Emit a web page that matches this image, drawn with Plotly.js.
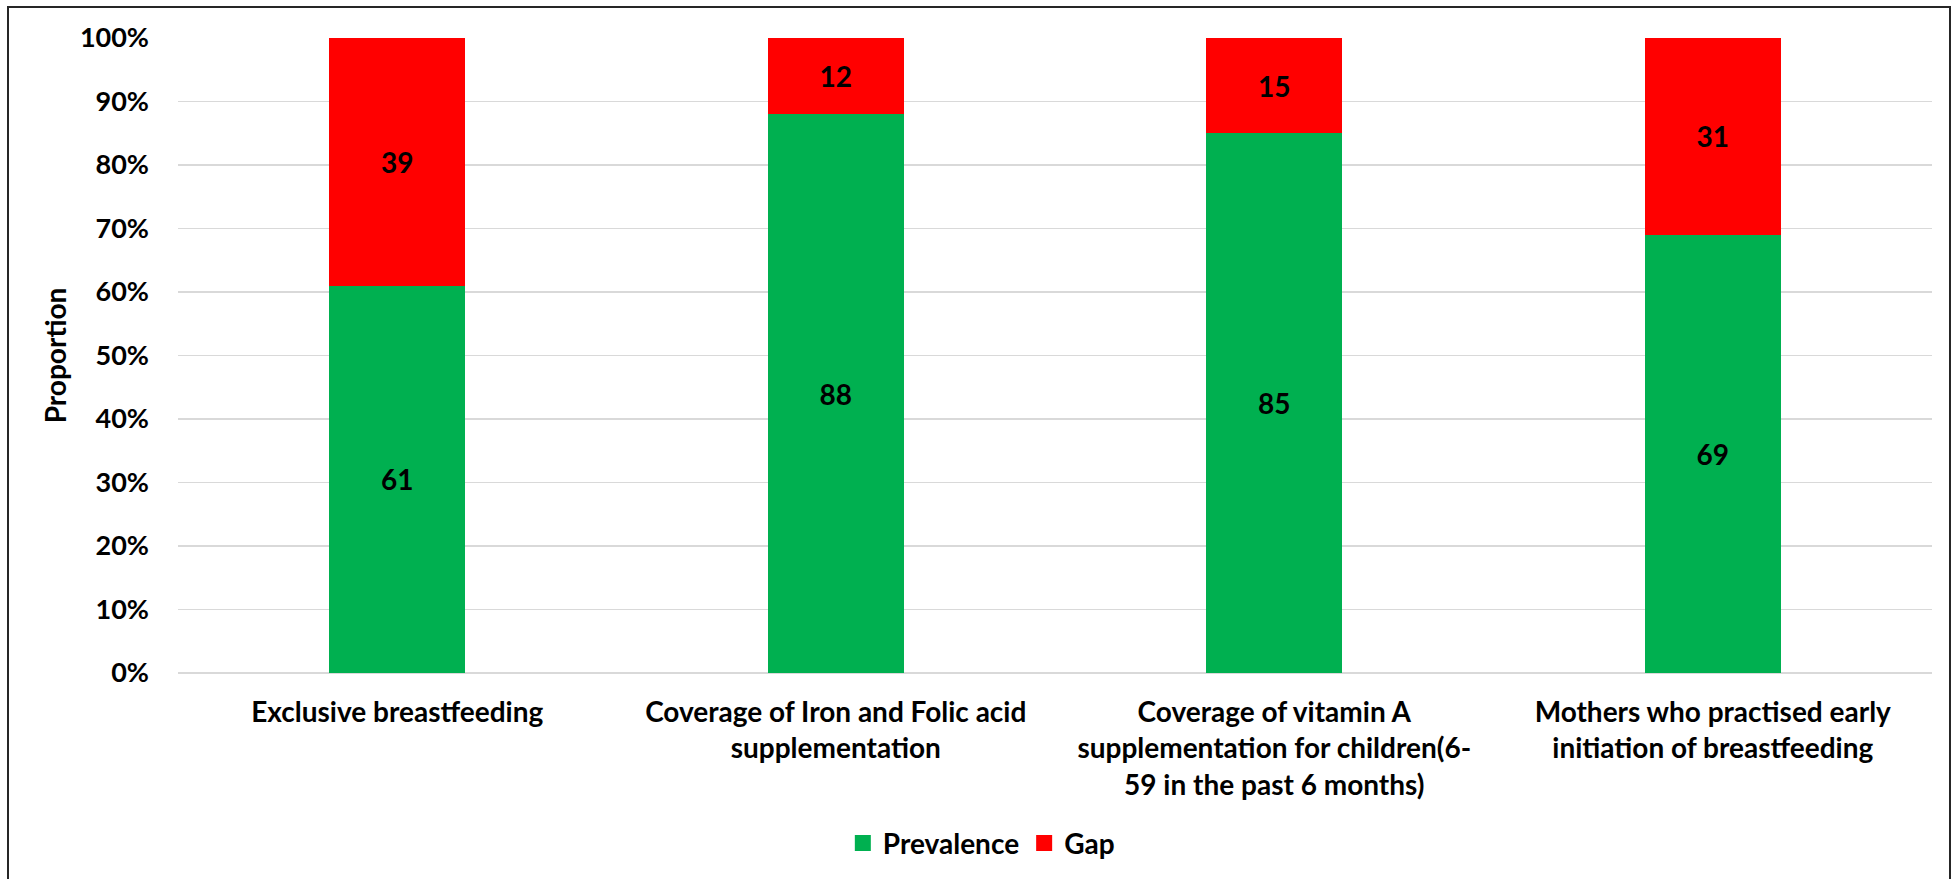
<!DOCTYPE html>
<html>
<head>
<meta charset="utf-8">
<script src="https://cdn.plot.ly/plotly-3.0.1.min.js"></script>
<style>
  html, body { margin: 0; padding: 0; background: #ffffff; overflow: hidden; }
  #chart { width: 1958px; height: 879px; }
  #frame { position: absolute; left: 7px; top: 6px; width: 1944px; height: 900px;
           border: 2px solid #262626; pointer-events: none; box-sizing: border-box; }
</style>
</head>
<body>
<div id="chart"></div>
<div id="frame"></div>
<script>
const categories = [
  "Exclusive breastfeeding",
  "Coverage of Iron and Folic acid<br>supplementation",
  "Coverage of vitamin A<br>supplementation for children(6-<br>59 in the past 6 months)",
  "Mothers who practised early<br>initiation of breastfeeding"
];
const prevalence = [61, 88, 85, 69];
const gap = [39, 12, 15, 31];
const seriesNames = ["Prevalence", "Gap"];
const seriesColors = ["#00B050", "#FF0000"];
const yTicks = [0, 10, 20, 30, 40, 50, 60, 70, 80, 90, 100];

const FONT = "Lato, 'Open Sans', sans-serif";
const labelFont = { family: FONT, size: 28, color: "#000000", weight: 700 };

const traces = [
  {
    type: "bar", name: seriesNames[0], x: categories, y: prevalence,
    marker: { color: seriesColors[0] }, showlegend: false,
    text: prevalence.map(String), textposition: "inside", insidetextanchor: "middle",
    textfont: labelFont, constraintext: "none", hoverinfo: "skip"
  },
  {
    type: "bar", name: seriesNames[1], x: categories, y: gap,
    marker: { color: seriesColors[1] }, showlegend: false,
    text: gap.map(String), textposition: "inside", insidetextanchor: "middle",
    textfont: labelFont, constraintext: "none", hoverinfo: "skip"
  },
  // legend-only entries (larger square swatches)
  {
    type: "scatter", mode: "markers", name: seriesNames[0], x: [null], y: [null],
    marker: { symbol: "square", size: 16, color: seriesColors[0] }, hoverinfo: "skip"
  },
  {
    type: "scatter", mode: "markers", name: seriesNames[1], x: [null], y: [null],
    marker: { symbol: "square", size: 16, color: seriesColors[1] }, hoverinfo: "skip"
  }
];

const layout = {
  width: 1958, height: 879,
  paper_bgcolor: "#ffffff", plot_bgcolor: "#ffffff",
  margin: { l: 178, r: 26, t: 38, b: 206, autoexpand: false },
  barmode: "stack",
  bargap: 0.69,
  font: { family: FONT, size: 28, color: "#000000", weight: 700 },
  showlegend: true,
  legend: {
    orientation: "h", x: 0.458, xanchor: "center", y: -0.268, yanchor: "middle",
    font: { family: FONT, size: 28, color: "#000000", weight: 700 },
    itemsizing: "trace", itemwidth: 30, traceorder: "normal", bgcolor: "rgba(0,0,0,0)"
  },
  xaxis: {
    type: "category", automargin: false, categoryorder: "array", categoryarray: categories,
    showline: false, showgrid: false, zeroline: false, ticks: "",
    tickfont: { family: FONT, size: 28, color: "#000000", weight: 700 },
    ticklabelstandoff: 20
  },
  yaxis: {
    range: [0, 100], tickvals: yTicks, ticktext: yTicks.map(v => v + "%"),
    automargin: false,
    showgrid: true, gridcolor: "#d9d9d9", gridwidth: 1.5,
    zeroline: true, zerolinecolor: "#d9d9d9", zerolinewidth: 2,
    showline: false, ticks: "",
    tickfont: { family: FONT, size: 27, color: "#000000", weight: 700 },
    ticklabelstandoff: 28,
    title: { text: "Proportion", font: { family: FONT, size: 28, color: "#000000", weight: 700 }, standoff: 5 }
  }
};

Plotly.newPlot("chart", traces, layout, { displayModeBar: false, staticPlot: true });
</script>
</body>
</html>
